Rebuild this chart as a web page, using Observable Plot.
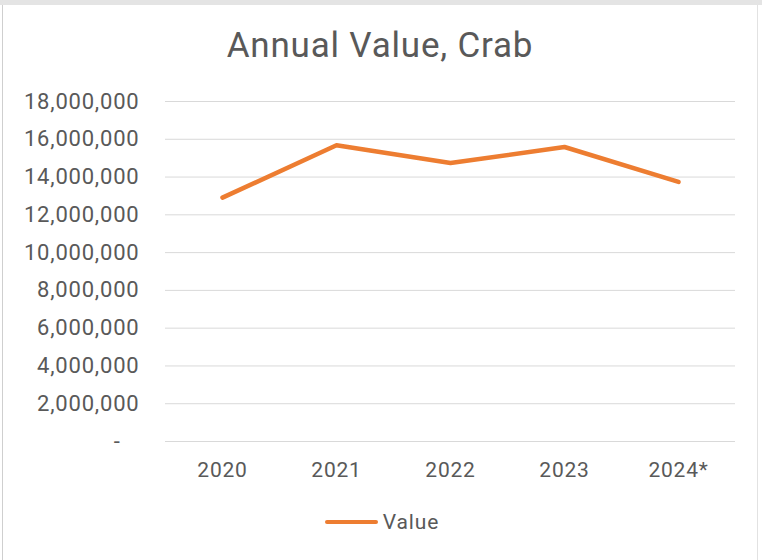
<!DOCTYPE html>
<html>
<head>
<meta charset="utf-8">
<script src="https://cdn.jsdelivr.net/npm/d3@7"></script>
<script src="https://cdn.jsdelivr.net/npm/@observablehq/plot@0.6"></script>
<style>
  html, body { margin: 0; padding: 0; background: #fff; }
  #frame { position: relative; width: 762px; height: 560px; overflow: hidden; background: #fff; font-family: Roboto, "Noto Sans", sans-serif; }
  #topstrip { position: absolute; left: 0; top: 0; width: 762px; height: 5px; background: #e4e4e4; }
  #lborder { position: absolute; left: 2px; top: 5px; width: 1px; height: 555px; background: #cfcfcf; }
  #rborder { position: absolute; left: 757px; top: 5px; width: 1px; height: 555px; background: #e2e2e2; }
  #title { position: absolute; left: 0; width: 762px; top: 26px; text-align: center; font-size: 35px; letter-spacing: 0.8px; color: #595959; line-height: 40px; padding-right: 2px; box-sizing: border-box; }
  #chart { position: absolute; left: 0; top: 80px; }
  #chart svg text { letter-spacing: 0.8px; }
  #legend { position: absolute; left: 0; width: 762px; top: 510px; display: flex; justify-content: center; align-items: center; font-size: 21px; letter-spacing: 0.9px; color: #595959; padding-left: 2px; box-sizing: border-box; }
  #legend .swatch { display: inline-block; width: 53px; height: 4px; background: #ED7D31; border-radius: 2px; margin-right: 5px; }
</style>
</head>
<body>
<div id="frame">
  <div id="topstrip"></div>
  <div id="lborder"></div>
  <div id="rborder"></div>
  <div id="title">Annual Value, Crab</div>
  <div id="chart"></div>
  <div id="legend"><span class="swatch"></span><span id="legendLabel"></span></div>
</div>
<script>
const years = ["2020", "2021", "2022", "2023", "2024*"];
const values = [12910000, 15680000, 14740000, 15590000, 13740000];
const yTicks = [0, 2000000, 4000000, 6000000, 8000000, 10000000, 12000000, 14000000, 16000000, 18000000];
const seriesName = "Value";

const data = years.map((y, i) => ({year: y, value: values[i]}));
const fmt = d3.format(",");

const chart = Plot.plot({
  width: 762,
  height: 420,
  marginTop: 21,
  marginBottom: 59,
  marginLeft: 165,
  marginRight: 27,
  style: {fontFamily: "Roboto, 'Noto Sans', sans-serif", color: "#595959", background: "transparent"},
  x: {type: "point", domain: years, padding: 0.5},
  y: {domain: [0, 18000000]},
  marks: [
    Plot.gridY(yTicks, {stroke: "#d9d9d9", strokeOpacity: 1, strokeWidth: 1}),
    Plot.axisY(yTicks, {
      tickSize: 0, tickPadding: 26, fontSize: 22, fill: "#595959", label: null,
      tickFormat: d => d === 0 ? "-\u00a0\u00a0\u00a0" : fmt(d)
    }),
    Plot.axisX({tickSize: 0, tickPadding: 21, fontSize: 21, fill: "#595959", label: null}),
    Plot.line(data, {x: "year", y: "value", stroke: "#ED7D31", strokeWidth: 4.5, strokeLinecap: "round", strokeLinejoin: "round"})
  ]
});
document.getElementById("chart").appendChild(chart);
document.getElementById("legendLabel").textContent = seriesName;
</script>
</body>
</html>
